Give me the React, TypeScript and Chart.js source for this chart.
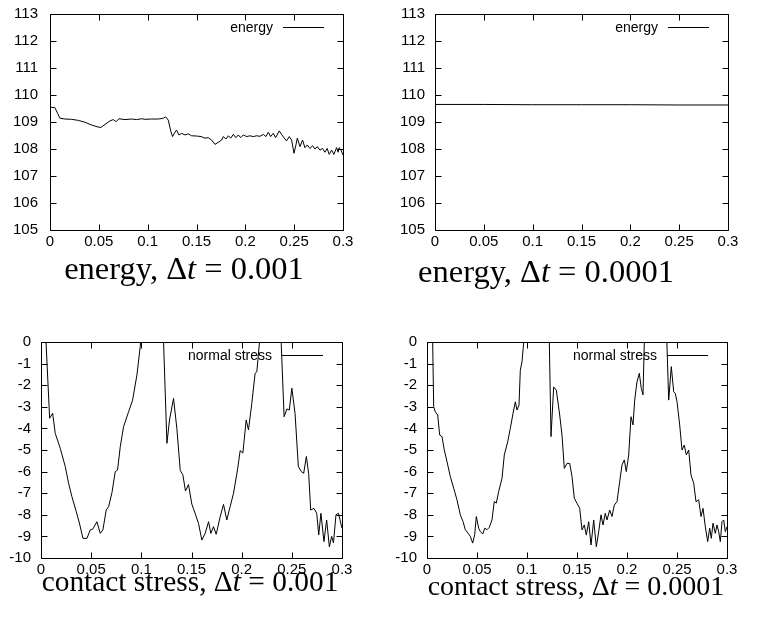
import React, { useEffect, useRef } from "react";
import { Chart, registerables } from "chart.js";

Chart.register(...registerables);
Chart.defaults.font.family = '"Liberation Sans", Arial, Helvetica, sans-serif';
Chart.defaults.font.size = 15;
Chart.defaults.color = "#000";

// ---------- tick values / labels ----------
const timeTicks = [0, 0.05, 0.1, 0.15, 0.2, 0.25, 0.3];
const timeTickLabels = ["0", "0.05", "0.1", "0.15", "0.2", "0.25", "0.3"];
const energyTicks = [105, 106, 107, 108, 109, 110, 111, 112, 113];
const energyTickLabels = ["105", "106", "107", "108", "109", "110", "111", "112", "113"];
const stressTicks = [-10, -9, -8, -7, -6, -5, -4, -3, -2, -1, 0];
const stressTickLabels = ["-10", "-9", "-8", "-7", "-6", "-5", "-4", "-3", "-2", "-1", "0"];

const energyLabel = "energy";
const stressLabel = "normal stress";

// ---------- energy, dt = 0.001 ----------
const energyTimeDt3 = [
  0, 0.005, 0.0078, 0.0102, 0.0153, 0.022, 0.029, 0.0358, 0.0426, 0.0495,
  0.0522, 0.0563, 0.0614, 0.0648, 0.0676, 0.0706, 0.0768, 0.0836, 0.0887, 0.0938,
  0.0972, 0.104, 0.1109, 0.116, 0.1184, 0.1211, 0.1238, 0.1255, 0.1279, 0.1296,
  0.132, 0.1348, 0.1382, 0.1416, 0.145, 0.15, 0.155, 0.1586, 0.162, 0.1655,
  0.1689, 0.1723, 0.1757, 0.1774, 0.1801, 0.1826, 0.185, 0.1877, 0.1904, 0.1928,
  0.1952, 0.1979, 0.2013, 0.2047, 0.2081, 0.2116, 0.215, 0.2184, 0.2211, 0.2235,
  0.2259, 0.2286, 0.231, 0.2347, 0.2371, 0.2395, 0.2422, 0.245, 0.2474, 0.2498,
  0.2518, 0.2532, 0.256, 0.2586, 0.261, 0.2634, 0.2661, 0.2689, 0.2712, 0.2736,
  0.2764, 0.2791, 0.2815, 0.2838, 0.2859, 0.2883, 0.2907, 0.2934, 0.295, 0.296,
  0.2975, 0.3,
];
const energyValueDt3 = [
  109.55, 109.53, 109.32, 109.14, 109.11, 109.1, 109.06, 108.99, 108.89, 108.81,
  108.8, 108.91, 109.04, 109.09, 109.01, 109.12, 109.09, 109.11, 109.09, 109.12,
  109.1, 109.11, 109.11, 109.14, 109.19, 109.07, 108.64, 108.46, 108.62, 108.7,
  108.52, 108.58, 108.52, 108.56, 108.49, 108.48, 108.46, 108.4, 108.42, 108.33,
  108.17, 108.25, 108.33, 108.46, 108.37, 108.49, 108.4, 108.54, 108.42, 108.52,
  108.42, 108.52, 108.46, 108.49, 108.46, 108.49, 108.47, 108.54, 108.46, 108.62,
  108.46, 108.58, 108.42, 108.67, 108.54, 108.42, 108.3, 108.46, 108.33, 107.84,
  108.15, 108.4, 108.09, 108.33, 108.05, 108.15, 108.02, 108.12, 108.0, 108.09,
  107.96, 108.02, 107.88, 108.02, 107.8, 107.96, 107.8, 108.05, 107.88, 108.05,
  108.0, 107.78,
];

// ---------- energy, dt = 0.0001 ----------
const energyTimeDt4 = [0, 0.05, 0.1, 0.15, 0.2, 0.25, 0.3];
const energyValueDt4 = [109.65, 109.65, 109.64, 109.64, 109.64, 109.63, 109.63];

// ---------- contact stress, dt = 0.001 ----------
const stressTimeDt3 = [
  0, 0.005, 0.0086, 0.0116, 0.0142, 0.0192, 0.0242, 0.0275, 0.0308, 0.0352,
  0.0385, 0.0418, 0.0458, 0.0491, 0.0518, 0.0557, 0.0591, 0.0617, 0.065, 0.0674,
  0.0707, 0.074, 0.0763, 0.079, 0.0823, 0.0873, 0.0913, 0.0956, 0.0989, 0.103,
  0.11, 0.118, 0.1218, 0.1255, 0.1281, 0.1321, 0.1354, 0.1388, 0.1414, 0.144,
  0.147, 0.1503, 0.1537, 0.157, 0.1603, 0.1636, 0.167, 0.1693, 0.1719, 0.1746,
  0.1786, 0.1819, 0.1852, 0.1885, 0.1919, 0.1958, 0.1985, 0.2012, 0.2045, 0.2068,
  0.2101, 0.2134, 0.2151, 0.2178, 0.222, 0.23, 0.2375, 0.2385, 0.2423, 0.245,
  0.2475, 0.25, 0.2532, 0.2565, 0.2595, 0.2618, 0.2645, 0.2668, 0.2688, 0.272,
  0.2748, 0.2768, 0.279, 0.282, 0.2847, 0.2874, 0.2897, 0.2915, 0.294, 0.2964,
  0.3,
];
const stressValueDt3 = [
  4.0, 0.0, -3.53, -3.3, -4.23, -4.92, -5.77, -6.54, -7.16, -7.86,
  -8.43, -9.09, -9.09, -8.7, -8.65, -8.32, -8.86, -8.7, -7.78, -7.62,
  -6.98, -6.0, -5.93, -4.85, -3.92, -3.23, -2.69, -1.53, -0.22, 2.5,
  4.0, 2.5, 0.5, -4.69, -3.61, -2.61, -4.0, -5.95, -6.15, -6.9,
  -6.6, -7.5, -7.95, -8.4, -9.17, -8.86, -8.32, -8.86, -8.55, -8.9,
  -8.09, -7.52, -8.24, -7.62, -7.0, -5.93, -5.03, -5.14, -3.61, -4.07,
  -2.84, -1.45, -1.38, 0.0, 3.0, 4.0, 2.0, 1.0, -3.46, -3.1,
  -3.15, -2.14, -3.3, -5.77, -6.0, -6.08, -5.3, -6.1, -7.78, -7.7,
  -7.93, -8.93, -7.93, -9.24, -8.24, -9.48, -9.0, -9.3, -8.0, -7.93,
  -8.62,
];

// ---------- contact stress, dt = 0.0001 ----------
const stressTimeDt4 = [
  0, 0.0055, 0.0067, 0.0083, 0.0107, 0.0127, 0.015, 0.0173, 0.02, 0.0233,
  0.0267, 0.03, 0.0333, 0.036, 0.0383, 0.041, 0.0433, 0.0457, 0.0477, 0.0493,
  0.0517, 0.0533, 0.0557, 0.0577, 0.06, 0.0623, 0.065, 0.0673, 0.0693, 0.0717,
  0.075, 0.0773, 0.0807, 0.0833, 0.086, 0.0883, 0.09, 0.092, 0.0933, 0.095,
  0.0967, 0.102, 0.11, 0.118, 0.1222, 0.124, 0.1257, 0.1267, 0.1293, 0.1327,
  0.135, 0.1373, 0.14, 0.1427, 0.145, 0.1473, 0.15, 0.1527, 0.155, 0.1573,
  0.1593, 0.1617, 0.164, 0.1667, 0.1693, 0.1717, 0.174, 0.176, 0.1783, 0.18,
  0.1827, 0.185, 0.1873, 0.19, 0.1927, 0.195, 0.1973, 0.1993, 0.2017, 0.204,
  0.206, 0.2077, 0.21, 0.2123, 0.2143, 0.216, 0.2173, 0.222, 0.23, 0.237,
  0.2395, 0.2417, 0.2443, 0.2467, 0.2483, 0.25, 0.2527, 0.255, 0.2573, 0.2593,
  0.2617, 0.264, 0.2667, 0.269, 0.2717, 0.274, 0.276, 0.2783, 0.2807, 0.2827,
  0.2843, 0.286, 0.2883, 0.29, 0.2917, 0.2933, 0.295, 0.2967, 0.2983, 0.3,
];
const stressValueDt4 = [
  5.0, 0.5, -3.0, -3.23, -3.38, -4.31, -4.38, -5.0, -5.54, -6.23,
  -6.77, -7.31, -8.0, -8.31, -8.69, -8.85, -9.0, -9.31, -8.92, -8.08,
  -8.62, -8.77, -8.89, -8.62, -8.69, -8.58, -8.23, -7.38, -7.46, -6.92,
  -6.31, -5.23, -4.62, -4.0, -3.31, -2.77, -3.15, -2.92, -1.31, -0.92,
  0.0, 3.0, 4.0, 3.0, 0.3, -4.38, -2.92, -2.08, -2.23, -3.38,
  -4.31, -5.85, -5.62, -5.62, -6.23, -7.23, -7.47, -7.7, -8.7, -8.47,
  -8.94, -8.32, -9.4, -8.24, -9.48, -8.78, -8.0, -8.47, -7.93, -8.24,
  -7.78, -8.08, -7.55, -7.39, -6.47, -5.69, -5.46, -6.0, -5.23, -3.46,
  -3.84, -2.69, -1.84, -1.45, -2.15, -2.45, 0.0, 3.0, 4.0, 2.0,
  0.5, -2.69, -1.14, -2.3, -2.38, -2.76, -3.84, -5.0, -4.77, -5.23,
  -5.0, -6.16, -6.54, -7.39, -7.31, -8.08, -7.7, -8.55, -9.24, -8.62,
  -9.09, -8.39, -8.86, -8.47, -8.78, -9.24, -8.32, -8.24, -8.78, -8.55,
];

// ---------- drawing helpers ----------
const TICK = 6;

const framePlugin = {
  id: "gnuplotFrame",
  afterDraw(chart: any) {
    const { ctx, chartArea } = chart;
    const xs = chart.scales.x;
    const ys = chart.scales.y;
    const L = Math.round(chartArea.left) + 0.5;
    const R = Math.round(chartArea.right) + 0.5;
    const T = Math.round(chartArea.top) + 0.5;
    const B = Math.round(chartArea.bottom) + 0.5;
    ctx.save();
    ctx.strokeStyle = "#000";
    ctx.lineWidth = 1;
    ctx.beginPath();
    ctx.rect(L, T, R - L, B - T);
    xs.ticks.forEach((t: any) => {
      const px = Math.round(xs.getPixelForValue(t.value)) + 0.5;
      ctx.moveTo(px, B);
      ctx.lineTo(px, B - TICK);
      ctx.moveTo(px, T);
      ctx.lineTo(px, T + TICK);
    });
    ys.ticks.forEach((t: any) => {
      const py = Math.round(ys.getPixelForValue(t.value)) + 0.5;
      ctx.moveTo(L, py);
      ctx.lineTo(L + TICK, py);
      ctx.moveTo(R, py);
      ctx.lineTo(R - TICK, py);
    });
    ctx.stroke();

    // gnuplot-style key: text, then line sample
    const ds = chart.data.datasets[0];
    const top = Math.round(chartArea.top);
    const right = Math.round(chartArea.right);
    ctx.font = '14px "Liberation Sans", Arial, Helvetica, sans-serif';
    ctx.fillStyle = "#000";
    ctx.textAlign = "right";
    ctx.textBaseline = "alphabetic";
    ctx.fillText(ds.label, right - 70, top + 18);
    ctx.beginPath();
    ctx.moveTo(right - 60, top + 13.5);
    ctx.lineTo(right - 19, top + 13.5);
    ctx.stroke();
    ctx.restore();
  },
};

const zeroPadding = (s: any) => {
  s.paddingTop = 0;
  s.paddingBottom = 0;
  s.paddingLeft = 0;
  s.paddingRight = 0;
};

type Area = { left: number; top: number; right: number; bottom: number };
type PanelProps = {
  x: number;
  y: number;
  w: number;
  h: number;
  area: Area;
  yPad: number;
  times: number[];
  values: number[];
  label: string;
  yMin: number;
  yMax: number;
  yTicks: number[];
  yLabels: string[];
};

function Panel(p: PanelProps) {
  const ref = useRef<HTMLCanvasElement>(null);
  useEffect(() => {
    if (!ref.current) return;
    const pts = p.times.map((t, i) => ({ x: t, y: p.values[i] }));
    const chart = new Chart(ref.current, {
      type: "line",
      data: {
        datasets: [
          {
            label: p.label,
            data: pts,
            borderColor: "#000",
            borderWidth: 1,
            pointRadius: 0,
            tension: 0,
            fill: false,
          },
        ],
      },
      options: {
        responsive: false,
        animation: false,
        devicePixelRatio: 1,
        events: [],
        layout: {
          padding: { left: 0, top: p.area.top, right: p.w - p.area.right, bottom: 0 },
        },
        plugins: {
          legend: { display: false },
          tooltip: { enabled: false },
          title: { display: false },
        },
        scales: {
          x: {
            type: "linear",
            min: 0,
            max: 0.3,
            afterBuildTicks: (s: any) => {
              s.ticks = timeTicks.map((v) => ({ value: v }));
            },
            afterFit: (s: any) => {
              s.height = p.h - p.area.bottom;
              zeroPadding(s);
            },
            grid: { display: false, drawTicks: false },
            border: { display: false },
            ticks: {
              callback: (_v: any, i: number) => timeTickLabels[i],
              padding: 3,
              maxRotation: 0,
              autoSkip: false,
              color: "#000",
              font: { size: 15 },
            },
          },
          y: {
            type: "linear",
            min: p.yMin,
            max: p.yMax,
            afterBuildTicks: (s: any) => {
              s.ticks = p.yTicks.map((v) => ({ value: v }));
            },
            afterFit: (s: any) => {
              s.width = p.area.left;
              zeroPadding(s);
            },
            grid: { display: false, drawTicks: false },
            border: { display: false },
            ticks: {
              callback: (_v: any, i: number) => p.yLabels[i],
              padding: p.yPad,
              autoSkip: false,
              color: "#000",
              font: { size: 15 },
            },
          },
        },
      },
      plugins: [framePlugin],
    } as any);
    return () => chart.destroy();
  }, []);
  return (
    <canvas
      ref={ref}
      width={p.w}
      height={p.h}
      style={{ position: "absolute", left: p.x, top: p.y, width: p.w, height: p.h }}
    />
  );
}

function Caption(props: { cx: number; baseline: number; size: number; pre: string; step: string }) {
  const size = props.size;
  return (
    <div
      style={{
        position: "absolute",
        left: props.cx - 250,
        width: 500,
        top: props.baseline - 0.8375 * size,
        textAlign: "center",
        fontFamily: '"Liberation Serif", "Times New Roman", serif',
        fontSize: size,
        lineHeight: size + "px",
        whiteSpace: "pre",
        color: "#000",
      }}
    >
      {props.pre}
      {", \u0394"}
      <i>t</i>
      {" = "}
      {props.step}
    </div>
  );
}

export default function App() {
  return (
    <div
      style={{
        position: "absolute",
        left: 0,
        top: 0,
        width: 760,
        height: 619,
        background: "#fff",
        overflow: "hidden",
      }}
    >
      <Panel
        x={0}
        y={0}
        w={380}
        h={262}
        area={{ left: 50, top: 14, right: 343, bottom: 230 }}
        yPad={12}
        times={energyTimeDt3}
        values={energyValueDt3}
        label={energyLabel}
        yMin={105}
        yMax={113}
        yTicks={energyTicks}
        yLabels={energyTickLabels}
      />
      <Panel
        x={380}
        y={0}
        w={380}
        h={262}
        area={{ left: 55, top: 14, right: 348, bottom: 230 }}
        yPad={10}
        times={energyTimeDt4}
        values={energyValueDt4}
        label={energyLabel}
        yMin={105}
        yMax={113}
        yTicks={energyTicks}
        yLabels={energyTickLabels}
      />
      <Panel
        x={0}
        y={320}
        w={380}
        h={262}
        area={{ left: 41, top: 22, right: 342, bottom: 238 }}
        yPad={10}
        times={stressTimeDt3}
        values={stressValueDt3}
        label={stressLabel}
        yMin={-10}
        yMax={0}
        yTicks={stressTicks}
        yLabels={stressTickLabels}
      />
      <Panel
        x={380}
        y={320}
        w={380}
        h={262}
        area={{ left: 47, top: 22, right: 347, bottom: 238 }}
        yPad={10}
        times={stressTimeDt4}
        values={stressValueDt4}
        label={stressLabel}
        yMin={-10}
        yMax={0}
        yTicks={stressTicks}
        yLabels={stressTickLabels}
      />
      <Caption cx={184} baseline={279} size={32.5} pre="energy" step="0.001" />
      <Caption cx={546} baseline={282} size={32.5} pre="energy" step="0.0001" />
      <Caption cx={190} baseline={592} size={29.4} pre="contact stress" step="0.001" />
      <Caption cx={576} baseline={595} size={28} pre="contact stress" step="0.0001" />
    </div>
  );
}
